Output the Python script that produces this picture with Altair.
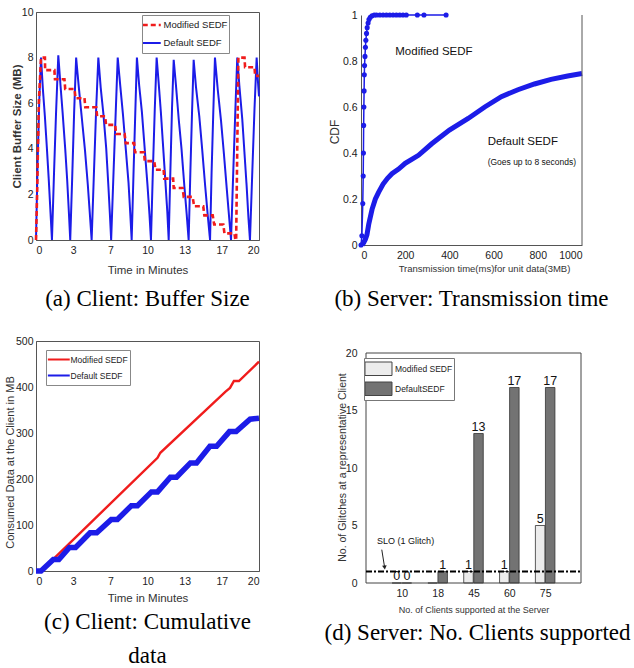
import altair as alt
import pandas as pd

# ---------------- data ----------------
SERIES = ["Modified SEDF", "Default SEDF"]

# (a) Client buffer size (MB) vs time (minutes)
a_default_t = [0.00, 0.15, 0.30, 0.45, 0.62, 0.80, 0.98, 1.15, 1.28, 1.43,
               1.62, 1.80, 2.00, 2.18, 2.40, 2.62, 2.80, 2.95, 3.07,
               3.25, 3.42, 3.60, 3.82, 4.10, 4.40, 4.65, 4.85, 4.99,
               5.20, 5.40, 5.59, 5.80, 6.05, 6.30, 6.50, 6.63, 6.74,
               6.95, 7.15, 7.33, 7.55, 7.80, 8.05, 8.30, 8.45, 8.58,
               8.75, 8.90, 9.05, 9.25, 9.50, 9.75, 10.00, 10.18, 10.31,
               10.48, 10.65, 10.82, 11.00, 11.20, 11.40, 11.60, 11.78, 11.90,
               12.05, 12.20, 12.35, 12.55, 12.80, 13.05, 13.30, 13.52, 13.69,
               13.85, 14.00, 14.14, 14.35, 14.65, 14.90, 15.15, 15.40, 15.61,
               15.75, 15.90, 16.05, 16.30, 16.60, 16.85, 17.10, 17.32, 17.49,
               17.70, 17.88, 18.05, 18.25, 18.50, 18.70, 18.90, 19.05, 19.19,
               19.40, 19.60, 19.79, 19.90, 20.00]
a_default_v = [0.0, 3.5, 6.2, 8.0, 6.6, 5.4, 4.0, 2.6, 1.4, 0.0,
               3.0, 5.6, 8.1, 6.9, 5.5, 4.0, 2.6, 1.2, 0.0,
               2.8, 5.6, 8.0, 6.8, 5.4, 3.9, 2.4, 1.0, 0.0,
               3.0, 5.8, 8.0, 6.7, 5.5, 4.0, 2.3, 1.1, 0.0,
               2.9, 5.6, 8.0, 6.8, 5.5, 4.0, 2.5, 1.2, 0.0,
               3.0, 5.5, 8.0, 6.8, 5.6, 4.0, 2.4, 1.1, 0.0,
               3.0, 5.7, 8.0, 6.9, 5.6, 4.1, 2.6, 1.2, 0.0,
               3.0, 5.8, 7.9, 6.8, 5.3, 4.0, 2.4, 1.1, 0.0,
               3.1, 5.7, 7.9, 6.7, 5.4, 4.0, 2.5, 1.1, 0.0,
               3.0, 5.6, 8.0, 6.6, 5.2, 3.8, 2.3, 1.0, 0.0,
               3.1, 5.7, 8.0, 6.7, 5.3, 3.8, 2.3, 1.0, 0.0,
               3.0, 5.8, 8.0, 7.0, 6.3]
a_modified_t = [0.00, 0.10, 0.25, 0.45, 0.80, 0.82, 1.65, 1.70, 2.55, 2.62,
                3.45, 3.55, 4.35, 4.42, 5.40, 5.48, 6.20, 6.28, 7.10, 7.18,
                7.95, 8.05, 8.80, 8.88, 9.70, 9.75, 10.60, 10.72, 11.45, 11.50,
                12.30, 12.35, 13.15, 13.25, 14.05, 14.18, 15.00, 15.10, 15.85, 15.98,
                16.80, 16.90, 17.80, 17.88, 17.95, 18.05, 18.15, 18.70, 18.75, 19.60,
                19.65, 20.00]
a_modified_v = [0.0, 2.0, 6.0, 8.0, 8.0, 7.45, 7.45, 7.05, 7.05, 6.62,
                6.62, 6.22, 6.22, 5.82, 5.82, 5.43, 5.43, 5.05, 5.05, 4.65,
                4.65, 4.25, 4.25, 3.85, 3.85, 3.46, 3.46, 3.08, 3.08, 2.69,
                2.69, 2.28, 2.28, 1.89, 1.89, 1.48, 1.48, 1.08, 1.08, 0.68,
                0.68, 0.29, 0.29, 0.0, 0.0, 4.0, 8.0, 8.0, 7.58, 7.58,
                7.2, 7.2]

# (b) CDF of transmission time (ms) for unit data
b_mod_ms = [0, 4, 8, 10, 11, 12, 13, 14, 15, 16, 18, 20, 22, 25, 28, 32, 36, 42,
            50, 60, 70, 85, 100, 115, 130, 145, 160, 175, 190, 205, 255, 285, 385]
b_mod_cdf = [0, 0.04, 0.18, 0.30, 0.40, 0.52, 0.60, 0.67, 0.74, 0.78, 0.82, 0.86,
             0.89, 0.92, 0.945, 0.965, 0.98, 0.99, 0.997, 1, 1, 1, 1, 1, 1, 1, 1,
             1, 1, 1, 1, 1, 1]
b_def_ms = [5, 12, 20, 27, 35, 50, 65, 80, 100, 120, 140, 170, 200, 260, 320, 400,
            485, 560, 635, 710, 785, 860, 935, 1000]
b_def_cdf = [0, 0.01, 0.025, 0.045, 0.09, 0.155, 0.2, 0.23, 0.265, 0.29, 0.31, 0.33,
             0.355, 0.39, 0.44, 0.5, 0.55, 0.6, 0.645, 0.675, 0.70, 0.72, 0.735, 0.746]
b_notes = ["Modified SEDF", "Default SEDF", "(Goes up to 8 seconds)"]
b_notes_ms = [330, 573, 573]
b_notes_cdf = [0.84, 0.45, 0.362]

# (c) Cumulative consumed data (MB)
c_mod_t = [0, 0.45, 1.55, 10.9, 11.15, 17.0, 17.4, 17.75, 18.2, 20.0]
c_mod_v = [0, 0, 26, 246, 257, 390, 398, 413, 413, 455]
c_def_t = [0, 0.45, 1.55, 2.05, 3.0, 3.55, 4.85, 5.45, 6.75, 7.3, 8.55, 9.1, 10.35,
           10.9, 12.05, 12.6, 13.85, 14.4, 15.6, 16.2, 17.35, 17.95, 19.2, 20.0]
c_def_v = [0, 0, 25, 25, 51, 51, 83, 83, 112, 112, 142, 142, 172, 172, 204, 204,
           235, 235, 271, 271, 303, 303, 330, 332]

# (d) Glitches vs number of clients
d_clients = ["10", "18", "45", "60", "75"]
d_modified = [0, 0, 1, 1, 5]
d_default = [0, 1, 13, 17, 17]
d_mod_labels = ["0", "", "1", "1", "5"]
d_def_labels = ["0", "1", "13", "17", "17"]
d_series = ["Modified SEDF", "DefaultSEDF"]
slo_value = 1
slo_text = "SLO (1 Glitch)"

# ---------------- styling ----------------
NARROW = "Liberation Sans, Arial, sans-serif"
SANS = "Liberation Sans, Arial, sans-serif"
SERIF = "Liberation Serif, Times New Roman, serif"
RED = "#f01c1c"
BLUE = "#1c1ce8"
AXC = "#555555"
TXT = "#222222"

minute_ticks = [0, 3.333, 6.667, 10, 13.333, 16.667, 20]


def caption(text, offset, dx=0):
    return alt.TitleParams(text=text, orient="bottom", anchor="middle", frame="group",
                           font=SERIF, fontSize=23, fontWeight="normal", color="black",
                           offset=offset, dx=dx, lineHeight=34)


# ---------------- (a) ----------------
df_a = pd.DataFrame({
    "t": a_default_t + a_modified_t,
    "v": a_default_v + a_modified_v,
    "series": ["Default SEDF"] * len(a_default_t) + ["Modified SEDF"] * len(a_modified_t),
    "i": list(range(len(a_default_t))) + list(range(len(a_modified_t))),
})
df_a["sw"] = df_a["series"]
leg_a = alt.Legend(orient="none", legendX=106, legendY=3, title=None,
                   symbolType="M-1.667,0H4.333", symbolSize=36, symbolStrokeWidth=2.5,
                   labelFont=NARROW, labelFontSize=9.5, labelColor=TXT, fillColor="white",
                   strokeColor="#888", padding=1, rowPadding=0, clipHeight=18, labelOffset=11)
chart_a = alt.Chart(df_a).mark_line().encode(
    x=alt.X("t:Q", scale=alt.Scale(domain=[0, 20], nice=False),
            axis=alt.Axis(values=minute_ticks, labelExpr="format(datum.value, '.0f')",
                          title="Time in Minutes", titleFont=NARROW, titleFontSize=11.5,
                          titleFontWeight="normal", titleX=111.5, titleY=30,
                          titleBaseline="middle", labelPadding=5)),
    y=alt.Y("v:Q", scale=alt.Scale(domain=[0, 10], nice=False),
            axis=alt.Axis(values=[0, 2, 4, 6, 8, 10], title="Client Buffer Size (MB)",
                          titleFont=SANS, titleFontSize=11.5, titleFontWeight="bold",
                          titleAngle=270, titleBaseline="bottom", titleX=-14, titleY=114,
                          labelPadding=3)),
    color=alt.Color("series:N", scale=alt.Scale(domain=SERIES, range=[RED, BLUE]), legend=leg_a),
    strokeDash=alt.StrokeDash("series:N", scale=alt.Scale(domain=SERIES, range=[[5, 3], [1, 0]]),
                              legend=leg_a),
    strokeWidth=alt.StrokeWidth("sw:N", scale=alt.Scale(domain=SERIES, range=[2.6, 2.0]),
                                legend=None),
    order="i:Q",
).properties(width=223, height=228, title=caption("(a) Client: Buffer Size", 12))

# ---------------- (b) ----------------
xb = alt.X("ms:Q", scale=alt.Scale(domain=[0, 1000], nice=False),
           axis=alt.Axis(values=[0, 200, 400, 600, 800, 1000], format="d",
                         title="Transmission time(ms)for unit data(3MB)", titleFont=NARROW,
                         titleFontSize=9.5, titleFontWeight="normal", titleX=123, titleY=23,
                         titleBaseline="middle", labelPadding=5, labelFontSize=10.5))
yb = alt.Y("cdf:Q", scale=alt.Scale(domain=[0, 1], range=[233, 3], nice=False),
           axis=alt.Axis(values=[0, 0.2, 0.4, 0.6, 0.8, 1], format="~g", title="CDF",
                         titleFont=SANS, titleFontSize=12, titleFontWeight="normal",
                         titleAngle=270, titleBaseline="bottom", titleX=-20, titleY=119.5,
                         labelPadding=4, labelFontSize=10.5))
df_b_def = pd.DataFrame({"ms": b_def_ms, "cdf": b_def_cdf})
df_b_mod = pd.DataFrame({"ms": b_mod_ms, "cdf": b_mod_cdf})
df_b_frame = pd.DataFrame({"ms": [1000], "lo": [0], "hi": [1]})
df_b_notes = pd.DataFrame({"ms": b_notes_ms, "cdf": b_notes_cdf, "note": b_notes})
b_def = alt.Chart(df_b_def).mark_line(color=BLUE, strokeWidth=5).encode(x=xb, y=yb)
b_mod_line = alt.Chart(df_b_mod).mark_line(color=BLUE, strokeWidth=1.5).encode(x="ms:Q", y="cdf:Q")
b_mod_pts = alt.Chart(df_b_mod).mark_circle(color=BLUE, size=26, opacity=1).encode(
    x="ms:Q", y="cdf:Q")
b_frame = alt.Chart(df_b_frame).mark_rule(color=AXC, strokeWidth=1).encode(
    x="ms:Q", y="lo:Q", y2="hi:Q")
b_note1 = alt.Chart(df_b_notes.iloc[[0]]).mark_text(font=NARROW, fontSize=11.5, color="#111",
                                                   align="center", baseline="middle").encode(
    x="ms:Q", y="cdf:Q", text="note:N")
b_note2 = alt.Chart(df_b_notes.iloc[[1]]).mark_text(font=NARROW, fontSize=11.5, color="#111",
                                                   align="left", baseline="middle").encode(
    x="ms:Q", y="cdf:Q", text="note:N")
b_note3 = alt.Chart(df_b_notes.iloc[[2]]).mark_text(font=NARROW, fontSize=8.5, color="#111",
                                                   align="left", baseline="middle").encode(
    x="ms:Q", y="cdf:Q", text="note:N")
chart_b = alt.layer(b_def, b_mod_line, b_mod_pts, b_frame, b_note1, b_note2, b_note3).properties(
    width=221, height=233, view=alt.ViewBackground(stroke="transparent"),
    title=caption("(b) Server: Transmission time", 15))

# ---------------- (c) ----------------
df_c_mod = pd.DataFrame({"t": c_mod_t, "v": c_mod_v, "series": "Modified SEDF",
                         "i": list(range(len(c_mod_t)))})
df_c_def = pd.DataFrame({"t": c_def_t, "v": c_def_v, "series": "Default SEDF",
                         "i": list(range(len(c_def_t)))})
leg_c = alt.Legend(orient="none", legendX=10, legendY=9, title=None,
                   symbolType="M-2,0H9", symbolSize=16, symbolStrokeWidth=2,
                   labelFont=NARROW, labelFontSize=8.5, labelColor=TXT, fillColor="white",
                   strokeColor="#888", padding=1.5, rowPadding=0, clipHeight=16,
                   labelOffset=14.5)
xc = alt.X("t:Q", scale=alt.Scale(domain=[0, 20], nice=False),
           axis=alt.Axis(values=minute_ticks, labelExpr="format(datum.value, '.0f')",
                         title="Time in Minutes", titleFont=NARROW, titleFontSize=11.5,
                         titleFontWeight="normal", titleX=111.5, titleY=27,
                         titleBaseline="middle", labelPadding=5))
yc = alt.Y("v:Q", scale=alt.Scale(domain=[0, 500], nice=False),
           axis=alt.Axis(values=[0, 100, 200, 300, 400, 500],
                         title="Consumed Data at the Client in MB", titleFont=SANS,
                         titleFontSize=11, titleFontWeight="normal", titleAngle=270,
                         titleBaseline="bottom", titleX=-21, titleY=121, labelPadding=3))
cc = alt.Color("series:N", scale=alt.Scale(domain=SERIES, range=[RED, BLUE]), legend=leg_c)
c_red = alt.Chart(df_c_mod).mark_line(strokeWidth=2.4).encode(x=xc, y=yc, color=cc, order="i:Q")
c_blue = alt.Chart(df_c_def).mark_line(strokeWidth=5.5).encode(x=xc, y=yc, color=cc, order="i:Q")
chart_c = alt.layer(c_red, c_blue).properties(
    width=223, height=230, title=caption(["(c) Client: Cumulative", "data"], 7))

# ---------------- (d) ----------------
n = len(d_clients)
df_d = pd.DataFrame({
    "pos": list(range(1, n + 1)) * 2,
    "val": d_modified + d_default,
    "label": d_mod_labels + d_def_labels,
    "series": [d_series[0]] * n + [d_series[1]] * n,
})
df_d = df_d.assign(xb=df_d["pos"] + df_d["series"].map({d_series[0]: -0.14, d_series[1]: 0.14}))
label_expr = "[" + ",".join("'%s'" % c for c in d_clients) + "][datum.value - 1]"
xd = alt.X("xb:Q", scale=alt.Scale(domain=[0, n + 1], nice=False),
           axis=alt.Axis(values=list(range(1, n + 1)), labelExpr=label_expr,
                         title="No. of Clients supported at the Server", titleFont=NARROW,
                         titleFontSize=9, titleFontWeight="normal", titleX=112.5, titleY=26,
                         titleBaseline="middle", labelPadding=5, labelFontSize=10.5, domain=False))
yd = alt.Y("val:Q", scale=alt.Scale(domain=[0, 20], range=[242, 12], nice=False),
           axis=alt.Axis(values=[0, 5, 10, 15, 20], title="No. of Glitches at a representative Client",
                         titleFont=SANS, titleFontSize=10.5, titleFontWeight="normal",
                         titleAngle=270, titleBaseline="bottom", titleX=-14, titleY=126,
                         labelPadding=4, labelFontSize=10.5, domain=False))
leg_d = alt.Legend(orient="none", legendX=3, legendY=17, title=None,
                   symbolType="M-1.417,-2.25H7.583V2.25H-1.417Z", symbolSize=36,
                   symbolStrokeColor="#444", symbolStrokeWidth=1, labelFont=NARROW,
                   labelFontSize=8.5, labelColor=TXT, fillColor="white", strokeColor="#777",
                   padding=1, rowPadding=0, clipHeight=19.5, labelOffset=21.5)
df_d_frame = pd.DataFrame({"x0": [0], "x1": [n + 1], "y0": [0], "y1": [20]})
d_frame = alt.Chart(df_d_frame).mark_rect(fillOpacity=0, stroke="#444", strokeWidth=1).encode(
    x="x0:Q", x2="x1:Q", y="y0:Q", y2="y1:Q")
d_bars = alt.Chart(df_d).mark_bar(size=9.5, stroke="#333", strokeWidth=0.8).encode(
    x=xd, y=yd,
    color=alt.Color("series:N", scale=alt.Scale(domain=d_series, range=["#ececec", "#737373"]),
                    legend=leg_d))
d_labels = alt.Chart(df_d).mark_text(font=NARROW, fontSize=12.5, color="#111", baseline="alphabetic",
                                     dy=-3).encode(x="xb:Q", y="val:Q", text="label:N")
df_slo = pd.DataFrame({"x0": [0], "x1": [n + 1], "y": [slo_value]})
d_slo = alt.Chart(df_slo).mark_rule(color="black", strokeWidth=2, strokeDash=[6, 2, 2, 2]).encode(
    x="x0:Q", x2="x1:Q", y="y:Q")
df_slo_note = pd.DataFrame({"x": [0.31], "y": [3.68], "t": [slo_text]})
d_slo_text = alt.Chart(df_slo_note).mark_text(font=NARROW, fontSize=9, color="#111",
                                              align="left", baseline="middle").encode(
    x="x:Q", y="y:Q", text="t:N")
df_arrow = pd.DataFrame({"x": [0.44, 0.52], "y": [2.9, 1.35]})
d_arrow = alt.Chart(df_arrow).mark_line(color="#222", strokeWidth=1).encode(x="x:Q", y="y:Q")
d_head = alt.Chart(df_arrow.iloc[[1]]).mark_point(shape="triangle-down", filled=True, size=22,
                                                  angle=352, color="#222", opacity=1).encode(
    x="x:Q", y="y:Q")
chart_d = alt.layer(d_bars, d_frame, d_labels, d_slo, d_slo_text, d_arrow, d_head).properties(
    width=225, height=242, view=alt.ViewBackground(stroke="transparent"),
    title=caption("(d) Server: No. Clients supported", 8, dx=4))

# ---------------- layout ----------------
chart = alt.concat(
    chart_a, chart_b, chart_c, chart_d, columns=2, bounds="flush",
    spacing={"row": 96, "column": 102},
).resolve_scale(
    color="independent", strokeDash="independent", strokeWidth="independent",
).resolve_legend(
    color="independent", strokeDash="independent",
).properties(
    padding={"left": 3, "top": 6, "right": 0, "bottom": 0}, background="white",
).configure_view(stroke=AXC, strokeWidth=1).configure_axis(
    grid=False, ticks=False, tickSize=0, domainColor=AXC, domainWidth=1,
    labelFont=NARROW, labelFontSize=10.5, labelColor=TXT, titleColor="#333",
)

chart.save("out.html", embed_options={"renderer": "svg", "actions": False})
